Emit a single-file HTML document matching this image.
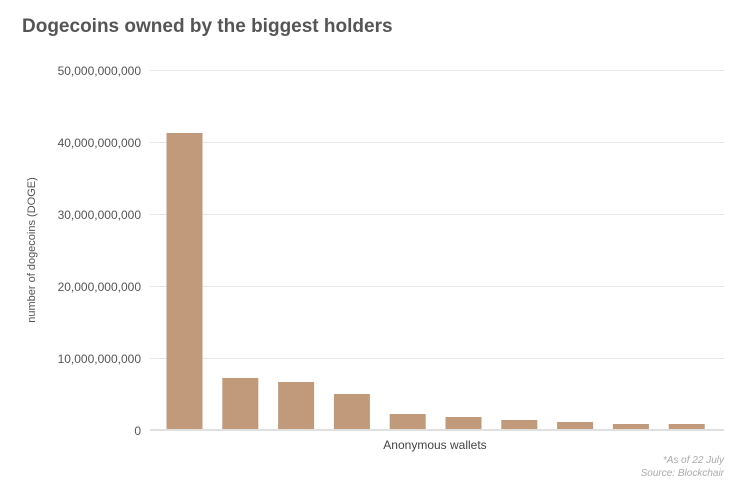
<!DOCTYPE html>
<html><head><style>
body{margin:0;background:#fff;width:750px;height:491px;overflow:hidden;font-family:"Liberation Sans",sans-serif}
</style></head><body>
<svg width="750" height="491" xmlns="http://www.w3.org/2000/svg" font-family="Liberation Sans, sans-serif">
<text x="22" y="32" font-size="19" font-weight="bold" fill="#555">Dogecoins owned by the biggest holders</text>
<g stroke="#e6e6e6" stroke-width="1">
<line x1="150" x2="724" y1="70.5" y2="70.5"/>
<line x1="150" x2="724" y1="142.5" y2="142.5"/>
<line x1="150" x2="724" y1="214.5" y2="214.5"/>
<line x1="150" x2="724" y1="286.5" y2="286.5"/>
<line x1="150" x2="724" y1="358.5" y2="358.5"/>
</g>
<g font-size="12" fill="#555" text-anchor="end">
<text x="141" y="75">50,000,000,000</text>
<text x="141" y="147">40,000,000,000</text>
<text x="141" y="219">30,000,000,000</text>
<text x="141" y="291">20,000,000,000</text>
<text x="141" y="363">10,000,000,000</text>
<text x="141" y="435">0</text>
</g>
<text transform="translate(35,250) rotate(-90)" font-size="11" fill="#555" text-anchor="middle">number of dogecoins (DOGE)</text>
<g fill="#c09a7a">
<rect x="166.5" y="133" width="36" height="297"/>
<rect x="222.3" y="378" width="36" height="52"/>
<rect x="278.1" y="382" width="36" height="48"/>
<rect x="333.9" y="394" width="36" height="36"/>
<rect x="389.7" y="414" width="36" height="16"/>
<rect x="445.5" y="417" width="36" height="13"/>
<rect x="501.3" y="420" width="36" height="10"/>
<rect x="557.1" y="422" width="36" height="8"/>
<rect x="612.9" y="424" width="36" height="6"/>
<rect x="668.7" y="424" width="36" height="6"/>
</g>
<line x1="150" x2="724" y1="430" y2="430" stroke="#e0e0e0" stroke-width="2"/>
<text x="435" y="449" font-size="12" fill="#444" text-anchor="middle">Anonymous wallets</text>
<g font-size="10" fill="#aaa" font-style="italic" text-anchor="end">
<text x="724" y="463">*As of 22 July</text>
<text x="724" y="476">Source: Blockchair</text>
</g>
</svg>
</body></html>
